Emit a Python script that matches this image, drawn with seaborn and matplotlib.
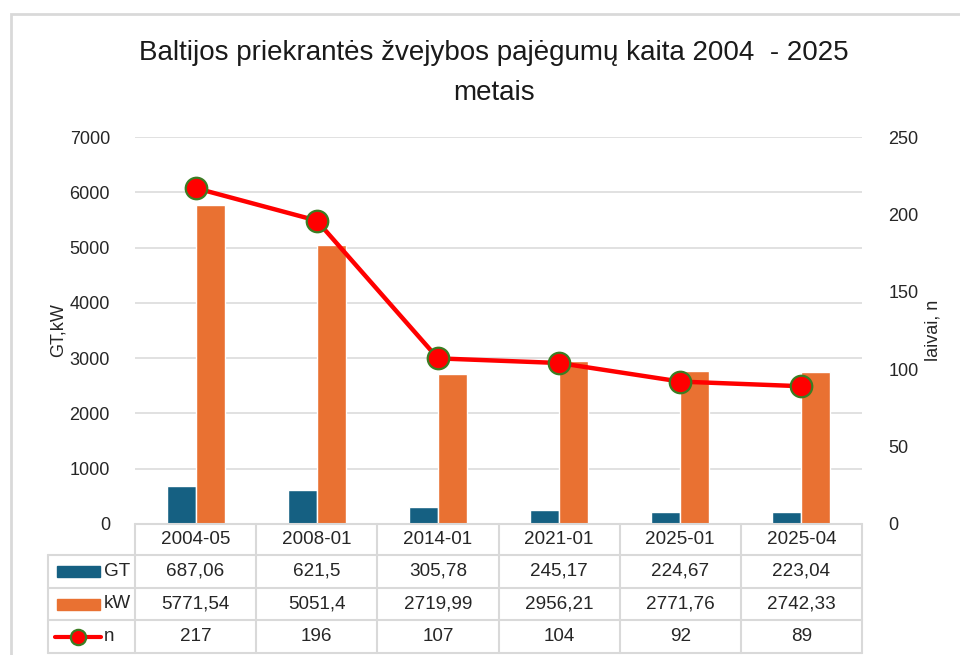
import numpy as np
import pandas as pd
import matplotlib
matplotlib.use("Agg")
import matplotlib.pyplot as plt
from matplotlib.patches import Rectangle
from matplotlib.lines import Line2D
import seaborn as sns

# Data
periods = ["2004-05", "2008-01", "2014-01", "2021-01", "2025-01", "2025-04"]
gt = [687.06, 621.5, 305.78, 245.17, 224.67, 223.04]
kw = [5771.54, 5051.4, 2719.99, 2956.21, 2771.76, 2742.33]
n_vessels = [217, 196, 107, 104, 92, 89]
gt_labels = ["687,06", "621,5", "305,78", "245,17", "224,67", "223,04"]
kw_labels = ["5771,54", "5051,4", "2719,99", "2956,21", "2771,76", "2742,33"]
n_labels = ["217", "196", "107", "104", "92", "89"]
left_ticks = [0, 1000, 2000, 3000, 4000, 5000, 6000, 7000]
right_ticks = [0, 50, 100, 150, 200, 250]

C_GT = "#156082"
C_KW = "#E97132"
C_LINE = "#FF0000"
C_EDGE = "#3B7D23"
C_GRID = "#D9D9D9"
C_TEXT = "#262626"

sns.set_theme(style="white")
plt.rcParams["font.family"] = ["Liberation Sans", "DejaVu Sans"]

W, H = 960, 655
fig = plt.figure(figsize=(W / 100, H / 100), dpi=100)


def fx(px):
    return px / W


def fy(py):
    return 1 - py / H


# Outer chart frame
fig.patches.append(Rectangle((fx(11), fy(700)), fx(1000), fy(14) - fy(700),
                             transform=fig.transFigure, fill=False,
                             edgecolor=C_GRID, linewidth=2))

L, R, T, B = 135, 862, 137, 524
ax = fig.add_axes([fx(L), fy(B), fx(R - L), fy(T) - fy(B)])

bars = pd.DataFrame({
    "period": periods * 2,
    "value": gt + kw,
    "series": ["GT"] * len(periods) + ["kW"] * len(periods),
})
sns.barplot(data=bars, x="period", y="value", hue="series",
            palette={"GT": C_GT, "kW": C_KW}, width=0.48, gap=0,
            saturation=1, legend=False, ax=ax)
ax.set_xlim(-0.5, len(periods) - 0.5)
ax.set_ylim(0, 7000)
ax.set_yticks(left_ticks)
ax.set_yticklabels([str(t) for t in left_ticks])
ax.grid(axis="y", color=C_GRID, linewidth=1.1)
ax.set_axisbelow(True)
for s in ax.spines.values():
    s.set_visible(False)
ax.tick_params(axis="y", length=0, pad=18, labelsize=13, labelcolor=C_TEXT)
ax.set_xticks([])
ax.set_xlabel("")
ax.set_ylabel("GT,kW", fontsize=13, color=C_TEXT, labelpad=2)

ax2 = ax.twinx()
line_df = pd.DataFrame({"period": periods, "n": n_vessels})
sns.pointplot(data=line_df, x="period", y="n", ax=ax2, color=C_LINE,
              markers="o", markersize=15.5, markeredgecolor=C_EDGE,
              markeredgewidth=1.6, linewidth=3.2)
ax2.set_xlim(-0.5, len(periods) - 0.5)
ax2.set_ylim(0, 250)
ax2.set_yticks(right_ticks)
ax2.set_yticklabels([str(t) for t in right_ticks])
for s in ax2.spines.values():
    s.set_visible(False)
ax2.tick_params(axis="y", length=0, pad=19, labelsize=13, labelcolor=C_TEXT)
ax2.set_xticks([])
ax2.set_xlabel("")
ax2.set_ylabel("laivai, n", fontsize=13, color=C_TEXT, labelpad=4)
ax2.grid(False)

# Title
title_family = ["Liberation Sans Narrow", "Liberation Sans", "DejaVu Sans"]
fig.text(fx(494), fy(53), "Baltijos priekrantės žvejybos pajėgumų kaita 2004  - 2025",
         ha="center", va="center", fontsize=20, color="#1a1a1a",
         family=title_family)
fig.text(fx(494), fy(93), "metais", ha="center", va="center", fontsize=20,
         color="#1a1a1a", family=title_family)

# Data table below the axis
ncat = len(periods)
cell = (R - L) / ncat
rows_y = [524, 555, 588, 620, 653]
KEY_L = 48
lw_tab = 1.5
TAB_FS = 13.6


def hline(y, x0, x1):
    fig.add_artist(Line2D([fx(x0), fx(x1)], [fy(y), fy(y)], color=C_GRID,
                          linewidth=lw_tab, transform=fig.transFigure))


def vline(x, y0, y1):
    fig.add_artist(Line2D([fx(x), fx(x)], [fy(y0), fy(y1)], color=C_GRID,
                          linewidth=lw_tab, transform=fig.transFigure))


hline(rows_y[0], L, R)
for y in rows_y[1:]:
    hline(y, KEY_L, R)
for i in range(ncat + 1):
    vline(L + i * cell, rows_y[0], rows_y[-1])
vline(KEY_L, rows_y[1], rows_y[-1])

row_text = [periods, gt_labels, kw_labels, n_labels]
for r, labels in enumerate(row_text):
    yc = (rows_y[r] + rows_y[r + 1]) / 2
    for i, lab in enumerate(labels):
        fig.text(fx(L + (i + 0.5) * cell), fy(yc), lab, ha="center",
                 va="center", fontsize=TAB_FS, color=C_TEXT)

# Legend keys inside the table
for r, (name, col) in enumerate([("GT", C_GT), ("kW", C_KW)], start=1):
    yc = (rows_y[r] + rows_y[r + 1]) / 2
    fig.patches.append(Rectangle((fx(57), fy(yc + 5.5)), fx(43), fy(yc - 5.5) - fy(yc + 5.5),
                                 transform=fig.transFigure, color=col))
    fig.text(fx(104), fy(yc), name, ha="left", va="center", fontsize=TAB_FS,
             color=C_TEXT)
yc = (rows_y[3] + rows_y[4]) / 2
fig.add_artist(Line2D([fx(55), fx(101)], [fy(yc), fy(yc)], color=C_LINE,
                      linewidth=3, transform=fig.transFigure))
fig.add_artist(Line2D([fx(78)], [fy(yc)], marker="o", markersize=11,
                      markerfacecolor=C_LINE, markeredgecolor=C_EDGE,
                      markeredgewidth=1.6, transform=fig.transFigure))
fig.text(fx(104), fy(yc), "n", ha="left", va="center", fontsize=TAB_FS,
         color=C_TEXT)

fig.savefig("out.png", dpi=100, facecolor="white")
